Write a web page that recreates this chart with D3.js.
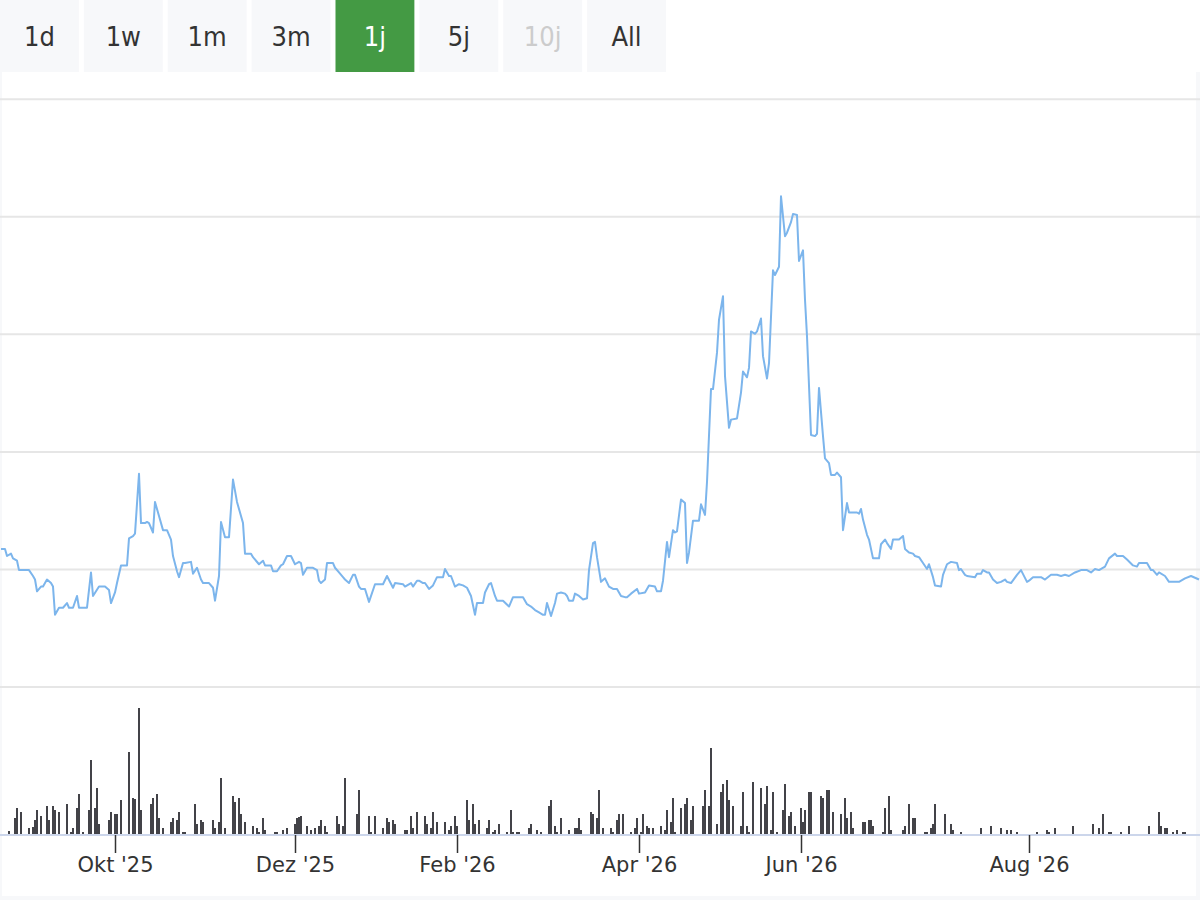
<!DOCTYPE html>
<html>
<head>
<meta charset="utf-8">
<script src="https://cdn.jsdelivr.net/npm/d3@7"></script>
<style>
  body { margin: 0; background: #fff; }
  svg { display: block; }
  .range-btn text { font-family: "DejaVu Sans Condensed", "DejaVu Sans", sans-serif; font-stretch: condensed; font-size: 27px; }
  .x-axis text { font-family: "DejaVu Sans", sans-serif; font-size: 21px; fill: #333; }
</style>
</head>
<body>
<div class="chart"></div>
<script>
// range selector
var rangeLabels = ['1d', '1w', '1m', '3m', '1j', '5j', '10j', 'All'];
var selectedRange = '1j';
var disabledRanges = ['10j'];

// x axis: session index of the first session of each month
var monthTicks = [57, 147, 228, 319, 400, 514];
var monthLabels = ["Okt '25", "Dez '25", "Feb '26", "Apr '26", "Jun '26", "Aug '26"];
var sessionCount = 600;

// price grid (no labels shown)
var priceGrid = [0, 1, 2, 3, 4, 5];

// [session, close]
var closes = [
  [0,1.17],[2,1.17],[3,1.11],[5,1.13],[6,1.09],[8,1.07],[9,0.99],[14,0.99],[16,0.94],[17,0.91],
  [18,0.81],[20,0.85],[21,0.85],[23,0.91],[25,0.88],[26,0.85],[27,0.61],[29,0.67],[31,0.67],[33,0.71],
  [34,0.67],[36,0.67],[38,0.77],[39,0.67],[43,0.67],[45,0.97],[46,0.77],[49,0.85],[52,0.85],[54,0.82],
  [55,0.71],[57,0.80],[58,0.88],[60,1.03],[63,1.03],[64,1.26],[66,1.28],[67,1.30],[69,1.81],[70,1.39],
  [72,1.39],[73,1.40],[74,1.39],[76,1.31],[77,1.57],[79,1.45],[81,1.33],[83,1.33],[85,1.25],[86,1.11],
  [88,0.98],[89,0.93],[91,1.05],[92,1.05],[95,1.06],[96,0.96],[98,1.01],[100,0.91],[101,0.88],[104,0.88],
  [106,0.84],[107,0.73],[109,0.94],[110,1.40],[112,1.27],[114,1.27],[116,1.76],[118,1.57],[121,1.39],[122,1.13],
  [125,1.13],[126,1.10],[129,1.04],[131,1.07],[132,1.03],[135,1.03],[136,0.98],[138,0.98],[140,1.03],[141,1.04],
  [143,1.11],[145,1.11],[147,1.04],[149,1.06],[150,1.05],[151,0.95],[153,1.01],[156,1.01],[158,0.99],[159,0.90],
  [160,0.88],[162,0.91],[163,1.05],[166,1.05],[167,1.01],[169,0.97],[171,0.93],[172,0.91],[174,0.88],[176,0.95],
  [177,0.95],[179,0.85],[180,0.83],[182,0.83],[184,0.72],[187,0.87],[191,0.87],[193,0.94],[196,0.84],[197,0.88],
  [201,0.87],[202,0.85],[205,0.88],[206,0.85],[208,0.90],[209,0.90],[211,0.88],[212,0.88],[214,0.83],[216,0.86],
  [218,0.93],[221,0.93],[222,1.00],[224,0.94],[225,0.94],[227,0.85],[229,0.87],[231,0.86],[233,0.84],[235,0.77],
  [237,0.61],[238,0.71],[241,0.71],[242,0.80],[244,0.87],[245,0.88],[247,0.77],[248,0.73],[251,0.73],[254,0.68],
  [256,0.76],[258,0.76],[261,0.76],[263,0.70],[265,0.68],[267,0.65],[269,0.63],[271,0.61],[272,0.61],[273,0.71],
  [275,0.60],[277,0.71],[278,0.79],[280,0.80],[282,0.79],[283,0.77],[284,0.73],[286,0.73],[287,0.79],[289,0.77],
  [291,0.74],[293,0.75],[294,0.99],[296,1.22],[297,1.23],[298,1.10],[300,0.89],[302,0.92],[304,0.85],[306,0.83],
  [308,0.83],[310,0.77],[312,0.76],[313,0.76],[315,0.79],[318,0.83],[319,0.79],[322,0.80],[324,0.86],[327,0.85],
  [328,0.81],[330,0.81],[331,0.90],[333,1.23],[334,1.10],[336,1.33],[337,1.31],[338,1.32],[340,1.59],[342,1.56],
  [343,1.05],[344,1.14],[346,1.41],[349,1.41],[350,1.55],[352,1.46],[353,1.74],[355,2.53],[356,2.53],[358,2.84],
  [359,3.12],[361,3.32],[362,2.64],[364,2.20],[365,2.27],[368,2.28],[370,2.50],[371,2.68],[373,2.63],[374,2.71],
  [375,3.02],[377,3.00],[378,3.02],[380,3.13],[381,2.81],[383,2.62],[384,2.75],[386,3.54],[387,3.50],[389,3.57],
  [390,4.17],[392,3.83],[393,3.86],[395,3.95],[396,4.02],[398,4.01],[399,3.62],[401,3.71],[402,3.29],[403,2.98],
  [405,2.14],[407,2.13],[408,2.15],[409,2.54],[411,2.13],[412,1.94],[414,1.90],[415,1.80],[417,1.80],[418,1.82],
  [420,1.78],[421,1.33],[423,1.56],[424,1.48],[428,1.48],[429,1.47],[430,1.51],[431,1.42],[433,1.29],[434,1.25],
  [436,1.09],[439,1.09],[440,1.21],[442,1.25],[443,1.22],[445,1.17],[446,1.25],[449,1.25],[451,1.28],[452,1.17],
  [454,1.14],[456,1.13],[457,1.11],[459,1.10],[461,1.05],[463,1.00],[464,1.04],[466,0.93],[467,0.86],[470,0.85],
  [471,0.95],[473,1.04],[475,1.06],[478,1.05],[479,0.99],[480,1.00],[482,0.95],[483,0.94],[487,0.93],[488,0.96],
  [490,0.96],[491,0.99],[493,0.97],[494,0.97],[496,0.91],[498,0.88],[500,0.89],[502,0.91],[503,0.89],[505,0.88],
  [508,0.95],[510,0.99],[513,0.89],[514,0.90],[516,0.93],[520,0.93],[522,0.91],[525,0.95],[528,0.95],[530,0.94],
  [532,0.95],[534,0.94],[537,0.97],[540,0.99],[543,0.99],[545,0.97],[547,1.00],[549,0.99],[552,1.02],[554,1.09],
  [557,1.13],[558,1.11],[561,1.11],[563,1.08],[566,1.03],[568,1.02],[569,1.05],[573,1.05],[575,0.99],[576,0.99],
  [578,0.95],[579,0.97],[582,0.94],[584,0.89],[586,0.89],[589,0.89],[592,0.92],[595,0.94],[599,0.91]
];

// [session, volume in thousands]
var volumes = [
  [4,3],[7,16],[8,26],[10,22],[14,6],[16,7],[17,14],[18,24],[20,18],[23,28],[24,14],[26,28],[27,24],[29,22],
  [33,30],[35,2],[36,6],[38,26],[39,40],[41,2],[44,24],[45,74],[47,26],[48,46],[49,10],[54,14],[55,22],[57,20],
  [58,20],[60,34],[64,82],[66,36],[67,35],[69,126],[70,24],[75,30],[76,36],[78,40],[79,16],[81,6],[85,12],[86,16],
  [88,14],[89,22],[91,2],[92,2],[97,30],[98,10],[100,14],[101,12],[106,14],[107,6],[109,12],[110,56],[112,6],[116,38],
  [117,32],[119,36],[120,20],[122,12],[126,8],[128,6],[129,2],[131,16],[132,4],[137,2],[138,2],[141,4],[143,6],[147,10],
  [148,16],[149,17],[150,18],[153,8],[155,4],[157,6],[159,8],[160,14],[162,8],[163,2],[168,18],[169,10],[171,8],[172,56],
  [178,20],[179,44],[184,18],[185,2],[187,18],[191,6],[193,16],[194,12],[196,14],[197,10],[202,4],[203,4],[205,18],[206,6],
  [208,22],[212,18],[213,10],[215,6],[216,22],[218,12],[222,12],[224,4],[225,8],[227,18],[228,8],[233,34],[234,14],[236,30],
  [237,10],[239,14],[243,6],[244,14],[246,2],[247,4],[249,10],[253,2],[255,24],[256,2],[258,2],[259,2],[264,6],[265,10],
  [268,4],[270,2],[274,28],[275,34],[277,8],[278,2],[280,16],[284,4],[287,6],[288,6],[289,16],[290,4],[295,22],[296,20],
  [298,16],[299,44],[301,6],[305,6],[306,2],[308,14],[309,20],[311,20],[315,2],[317,6],[318,16],[320,2],[321,20],[323,8],
  [324,6],[326,6],[330,8],[332,4],[333,24],[335,12],[336,36],[337,2],[340,26],[342,30],[343,36],[345,14],[346,28],[351,28],
  [352,44],[354,28],[355,86],[358,10],[360,42],[361,50],[363,54],[364,34],[366,28],[370,8],[371,42],[373,8],[374,2],[376,52],
  [380,46],[382,30],[383,48],[385,4],[386,42],[388,2],[391,24],[392,50],[394,18],[395,22],[397,8],[400,26],[401,12],[402,24],
  [404,42],[405,42],[410,38],[411,36],[413,44],[414,44],[416,22],[420,20],[422,36],[423,16],[425,22],[426,6],[431,12],[432,12],
  [434,14],[435,14],[436,8],[441,2],[442,26],[444,38],[445,4],[451,4],[452,8],[454,30],[456,16],[457,16],[462,2],[463,2],
  [465,6],[466,10],[467,30],[472,20],[475,10],[476,4],[480,2],[490,6],[495,8],[500,6],[503,4],[505,4],[508,2],[518,2],
  [523,4],[524,2],[527,6],[536,8],[546,10],[549,6],[551,20],[554,2],[555,2],[560,2],[564,8],[574,8],[579,22],[580,8],
  [582,6],[583,6],[586,2],[588,4],[591,2],[592,2]
];

draw();

function draw() {
    var width = 1200;
    var height = 900;

    var svg = d3.select('.chart')
        .append('svg')
        .attr('width', width)
        .attr('height', height);

    // frame: light grey page, white plot card
    svg.append('rect')
        .attr('x', 0).attr('y', 72)
        .attr('width', width).attr('height', height - 72)
        .attr('fill', '#f7f8fa');
    svg.append('rect')
        .attr('x', 2).attr('y', 72)
        .attr('width', 1194).attr('height', 824)
        .attr('fill', '#fff');

    // range buttons
    var band = d3.scaleBand()
        .domain(rangeLabels)
        .range([0, 666])
        .paddingInner(5 / 84)
        .paddingOuter(0);

    var btn = svg.selectAll('.range-btn')
        .data(rangeLabels)
        .enter()
        .append('g')
        .attr('class', 'range-btn')
        .attr('transform', function (d) { return 'translate(' + band(d) + ',0)'; });

    btn.append('rect')
        .attr('width', band.bandwidth())
        .attr('height', 72)
        .attr('fill', function (d) { return d === selectedRange ? '#449a44' : '#f7f8fa'; });

    btn.append('text')
        .attr('x', band.bandwidth() / 2)
        .attr('y', 46)
        .attr('text-anchor', 'middle')
        .attr('fill', function (d) {
            if (d === selectedRange) return '#fff';
            if (disabledRanges.indexOf(d) > -1) return '#cccccc';
            return '#333';
        })
        .text(function (d) { return d; });

    var x = d3.scaleLinear()
        .domain([-0.5, sessionCount - 0.5])
        .range([0, width]);

    var y = d3.scaleLinear()
        .domain([0, 5])
        .range([686.5, 98.7]);

    var vy = d3.scaleLinear()
        .domain([0, 150])
        .range([834, 684]);

    // horizontal grid of the price pane
    var grid = svg.append('g')
        .attr('class', 'grid')
        .call(d3.axisLeft(y).tickValues(priceGrid).tickSize(-width).tickFormat(''));
    grid.select('.domain').remove();
    grid.selectAll('line')
        .attr('stroke', '#e6e6e6')
        .attr('stroke-width', 2);

    // volume columns
    svg.append('g')
        .selectAll('rect')
        .data(volumes)
        .enter()
        .append('rect')
        .attr('x', function (d) { return x(d[0]) - 1; })
        .attr('width', 2)
        .attr('y', function (d) { return vy(d[1]); })
        .attr('height', function (d) { return vy(0) - vy(d[1]); })
        .attr('fill', '#434348');

    // price line
    var line = d3.line()
        .x(function (d) { return x(d[0]); })
        .y(function (d) { return y(d[1]); });

    svg.append('path')
        .datum(closes)
        .attr('d', line)
        .attr('fill', 'none')
        .attr('stroke', '#7cb5ec')
        .attr('stroke-width', 2)
        .attr('stroke-linejoin', 'round');

    // date axis
    var xAxis = svg.append('g')
        .attr('class', 'x-axis')
        .attr('transform', 'translate(0,835)')
        .call(d3.axisBottom(x)
            .tickValues(monthTicks)
            .tickSize(18)
            .tickFormat(function (d, i) { return monthLabels[i]; }));

    xAxis.select('.domain')
        .attr('d', 'M0,0H' + width)
        .attr('stroke', '#ccd6eb')
        .attr('stroke-width', 2);

    xAxis.selectAll('.tick line')
        .attr('stroke', '#333')
        .attr('stroke-width', 1.5);

    xAxis.selectAll('.tick text')
        .attr('y', 37)
        .attr('dy', null);
}
</script>
</body>
</html>
